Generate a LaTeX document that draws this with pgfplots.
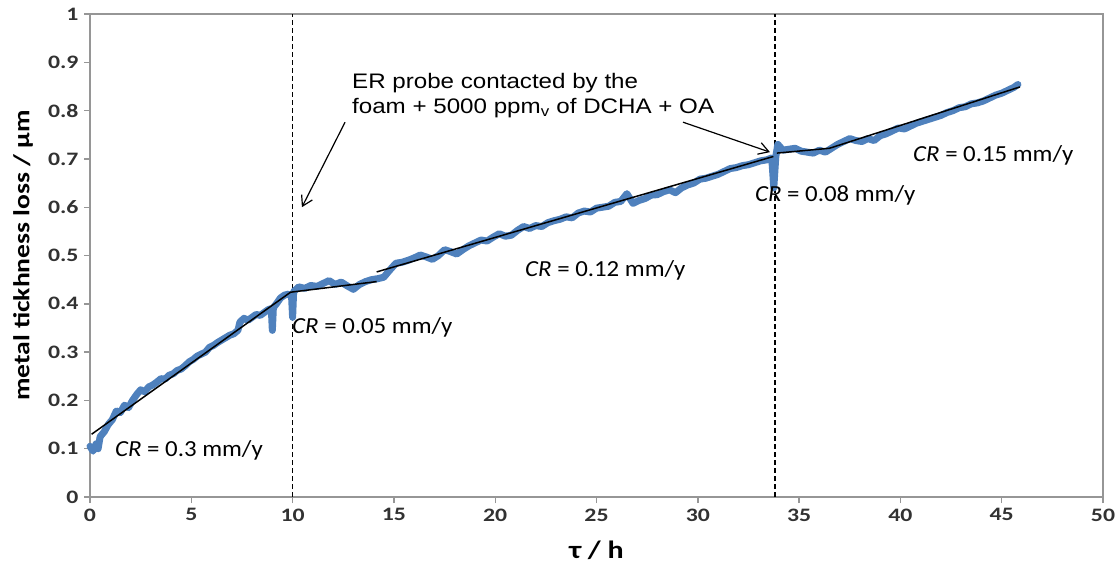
\documentclass[border=0pt]{standalone}
\usepackage{fontspec}
\setmainfont{Carlito}
\newfontfamily\tickfont{Carlito}[FakeStretch=1.25]
\newfontfamily\labfont{Carlito}[FakeStretch=1.2]
\newfontfamily\crfont{Carlito}[FakeStretch=1.08]
\newfontfamily\annfont{Liberation Sans}[FakeStretch=1.15]
\usepackage{pgfplots}
\pgfplotsset{compat=1.18}
\usetikzlibrary{arrows.meta}
\definecolor{dblue}{RGB}{79,129,189}
\definecolor{axgray}{RGB}{150,150,150}
\definecolor{tickc}{RGB}{50,50,50}
\begin{document}
\begin{tikzpicture}
\begin{axis}[
 width=1013pt, height=483pt, scale only axis,
 xmin=0, xmax=50, ymin=0, ymax=1,
 xtick={0,5,10,15,20,25,30,35,40,45,50},
 ytick={0,0.1,0.2,0.3,0.4,0.5,0.6,0.7,0.8,0.9,1},
 axis line style={axgray, line width=1.4pt},
 tick style={axgray, line width=1.4pt},
 tick align=outside, major tick length=6pt,
 xtick pos=left, ytick pos=left,
 /pgf/number format/assume math mode=true,
 /pgf/number format/fixed,
 tick label style={font=\tickfont\bfseries\fontsize{19}{19}\selectfont, text=tickc},
 xticklabel style={yshift=-2pt},
 yticklabel style={xshift=-2pt},
 xlabel={τ / h},
 ylabel={metal tickhness loss / μm},
 xlabel style={font=\labfont\bfseries\fontsize{25}{25}\selectfont, at={(axis description cs:0.5,-0.11)}, anchor=center},
 ylabel style={font=\labfont\bfseries\fontsize{23}{23}\selectfont, at={(axis description cs:-0.066,0.5)}, anchor=center},
 clip=false,
]
% dashed markers
\addplot[black, line width=1.6pt, dash pattern=on 5pt off 3pt] coordinates {(10,0) (10,1)};
\addplot[black, line width=1.6pt, dash pattern=on 5pt off 3pt] coordinates {(33.8,0) (33.8,1)};
% measured data
\addplot[dblue, line width=7pt, line join=round, line cap=round] coordinates {
(0.0,0.105) (0.15,0.095) (0.3,0.110) (0.4,0.100) (0.5,0.125) (0.7,0.135) (0.9,0.150)
(1.1,0.160) (1.3,0.178) (1.5,0.175) (1.7,0.190) (1.9,0.185) (2.1,0.200) (2.3,0.212)
(2.5,0.222) (2.7,0.218) (2.9,0.228) (3.1,0.232) (3.3,0.238) (3.5,0.245) (3.7,0.244)
(3.9,0.252) (4.1,0.255) (4.3,0.262) (4.5,0.265) (4.7,0.272) (4.9,0.280) (5.1,0.285)
(5.3,0.292) (5.5,0.296) (5.7,0.300) (5.9,0.310) (6.1,0.314) (6.3,0.320) (6.5,0.325)
(6.7,0.330) (6.9,0.335) (7.1,0.338) (7.3,0.345) (7.4,0.362) (7.6,0.370) (7.8,0.366)
(8.0,0.372) (8.2,0.378) (8.4,0.376) (8.6,0.382) (8.8,0.388) (8.95,0.390) (9.0,0.345)
(9.05,0.392) (9.2,0.400) (9.4,0.412) (9.6,0.418) (9.8,0.420) (9.95,0.415) (10.0,0.372)
(10.05,0.425) (10.3,0.435) (10.6,0.432) (10.9,0.438) (11.2,0.436) (11.5,0.442) (11.8,0.448)
(12.1,0.440) (12.4,0.445) (12.7,0.437) (13.0,0.430) (13.3,0.440) (13.6,0.446) (13.9,0.450)
(14.2,0.452) (14.5,0.455) (14.8,0.470) (15.1,0.484) (15.4,0.486) (15.7,0.490) (16.0,0.495)
(16.3,0.501) (16.6,0.497) (16.9,0.492) (17.2,0.500) (17.5,0.512) (17.8,0.508) (18.1,0.503)
(18.4,0.512) (18.7,0.520) (19.0,0.526) (19.3,0.532) (19.6,0.530) (19.9,0.538) (20.2,0.545)
(20.5,0.540) (20.8,0.542) (21.1,0.552) (21.4,0.560) (21.7,0.556) (22.0,0.562) (22.3,0.560)
(22.6,0.568) (22.9,0.572) (23.2,0.575) (23.5,0.580) (23.8,0.578) (24.1,0.588) (24.4,0.592)
(24.7,0.590) (25.0,0.598) (25.3,0.600) (25.6,0.602) (25.9,0.610) (26.2,0.612) (26.5,0.628)
(26.8,0.608) (27.1,0.614) (27.4,0.618) (27.7,0.625) (28.0,0.626) (28.3,0.632) (28.6,0.636)
(28.9,0.630) (29.2,0.640) (29.5,0.646) (29.8,0.650) (30.1,0.658) (30.4,0.660) (30.7,0.664)
(31.0,0.668) (31.3,0.674) (31.6,0.680) (31.9,0.682) (32.2,0.686) (32.5,0.688) (32.8,0.692)
(33.1,0.696) (33.4,0.698) (33.65,0.702) (33.75,0.640) (33.85,0.705) (33.95,0.730) (34.2,0.718)
(34.5,0.720) (34.8,0.722) (35.1,0.716) (35.4,0.714) (35.7,0.712) (36.0,0.718) (36.3,0.714)
(36.6,0.722) (36.9,0.730) (37.2,0.736) (37.5,0.742) (37.8,0.738) (38.1,0.736) (38.4,0.742)
(38.7,0.738) (39.0,0.748) (39.3,0.752) (39.6,0.758) (39.9,0.764) (40.2,0.762) (40.5,0.768)
(40.8,0.774) (41.1,0.778) (41.4,0.782) (41.7,0.786) (42.0,0.790) (42.3,0.796) (42.6,0.800)
(42.9,0.806) (43.2,0.808) (43.5,0.814) (43.8,0.816) (44.1,0.820) (44.4,0.826) (44.7,0.832)
(45.0,0.836) (45.3,0.842) (45.6,0.848) (45.8,0.854)
};
% fitted lines
\addplot[black, line width=1.5pt] coordinates {(0.08,0.130) (9.9,0.424) (14.15,0.446)};
\addplot[black, line width=1.5pt] coordinates {(14.15,0.466) (33.73,0.705)};
\addplot[black, line width=1.5pt] coordinates {(33.9,0.712) (36.5,0.722) (45.9,0.849)};
% annotations
\draw[-{Straight Barb[length=10pt,width=12pt]}, line width=1.2pt] (axis cs:12.59,0.776) -- (axis cs:10.46,0.600);
\draw[-{Straight Barb[length=10pt,width=12pt]}, line width=1.2pt] (axis cs:29.27,0.776) -- (axis cs:33.56,0.714);
\node[anchor=north west, align=left, inner sep=0pt, font=\annfont\fontsize{21}{25}\selectfont] at (axis cs:12.93,0.878)
 {ER probe contacted by the\\foam + 5000 ppm\textsubscript{v} of DCHA + OA};
\node[anchor=west, inner sep=0pt, font=\crfont\fontsize{23}{23}\selectfont] at (axis cs:1.23,0.097) {\textit{CR} = 0.3 mm/y};
\node[anchor=west, inner sep=0pt, font=\crfont\fontsize{23}{23}\selectfont] at (axis cs:9.97,0.352) {\textit{CR} = 0.05 mm/y};
\node[anchor=west, inner sep=0pt, font=\crfont\fontsize{23}{23}\selectfont] at (axis cs:21.47,0.470) {\textit{CR} = 0.12 mm/y};
\node[anchor=west, inner sep=0pt, font=\crfont\fontsize{23}{23}\selectfont] at (axis cs:32.82,0.625) {\textit{CR} = 0.08 mm/y};
\node[anchor=west, inner sep=0pt, font=\crfont\fontsize{23}{23}\selectfont] at (axis cs:40.62,0.708) {\textit{CR} = 0.15 mm/y};
\end{axis}
\pgfresetboundingbox
\path[use as bounding box] ([shift={(-90pt,-72pt)}]current axis.south west) rectangle ([shift={(16pt,14pt)}]current axis.north east);
\end{tikzpicture}
\end{document}
